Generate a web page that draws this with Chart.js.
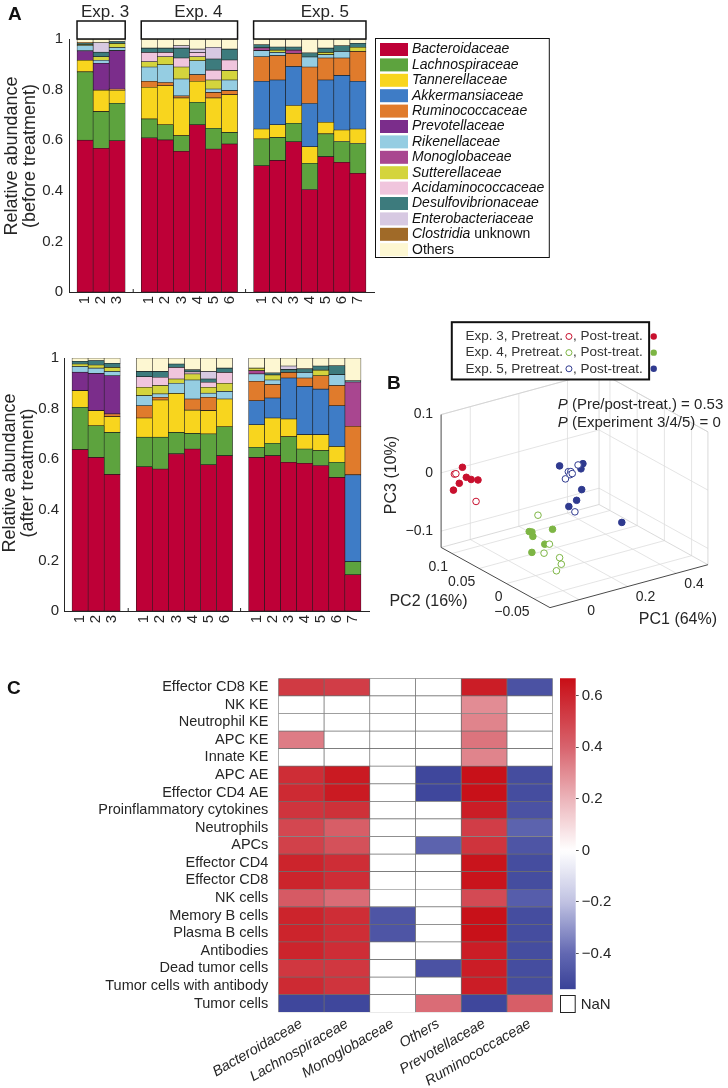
<!DOCTYPE html>
<html><head><meta charset="utf-8">
<script src="https://cdn.jsdelivr.net/npm/chart.js@4.4.1/dist/chart.umd.min.js"></script>
<style>
html,body{margin:0;padding:0;background:#fff;}
body{position:relative;width:728px;height:1088px;overflow:hidden;font-family:'Liberation Sans',Arial,Helvetica,sans-serif;}
canvas{position:absolute;}
.pl{position:absolute;font-weight:bold;font-size:19px;color:#111;line-height:1;}
</style></head><body>
<canvas id="aTop" width="560" height="318" style="left:0;top:0;width:560px;height:318px"></canvas>
<canvas id="aBot" width="376" height="320" style="left:0;top:320px;width:376px;height:320px"></canvas>
<canvas id="pca" width="358" height="345" style="left:370px;top:290px;width:358px;height:345px"></canvas>
<canvas id="heat" width="560" height="448" style="left:0;top:640px;width:560px;height:448px"></canvas>
<canvas id="cbar" width="173" height="448" style="left:555px;top:640px;width:173px;height:448px"></canvas>
<div class="pl" style="left:8px;top:4px">A</div>
<div class="pl" style="left:387px;top:373px">B</div>
<div class="pl" style="left:7px;top:678px">C</div>
<script>
// ================= DATA =================
// ---- Panel A: relative abundance ----
const families = ['Bacteroidaceae','Lachnospiraceae','Tannerellaceae','Akkermansiaceae','Ruminococcaceae','Prevotellaceae','Rikenellaceae','Monoglobaceae','Sutterellaceae','Acidaminococcaceae','Desulfovibrionaceae','Enterobacteriaceae','Clostridia unknown','Others'];
const familyColors = ['#BE0037','#5DA33E','#F8D51E','#3E7CC6','#E07B2C','#7B2D8B','#95CDE2','#A94690','#D4D43D','#F0C5DD','#3D7B7D','#D7C9E2','#A06A28','#FDF7D2'];
const groupNames = ['Exp. 3','Exp. 4','Exp. 5'];
const groupSizes = [3,6,7];
const sampleLabels = ['1','2','3','1','2','3','4','5','6','1','2','3','4','5','6','7'];

const preBacteroidaceae      = [0.600,0.568,0.598,0.609,0.601,0.556,0.661,0.565,0.585,0.499,0.520,0.594,0.405,0.535,0.513,0.469];
const preLachnospiraceae     = [0.270,0.145,0.148,0.075,0.060,0.062,0.089,0.082,0.046,0.106,0.091,0.073,0.104,0.090,0.082,0.118];
const preTannerellaceae      = [0.046,0.085,0.052,0.125,0.154,0.149,0.083,0.120,0.149,0.039,0.050,0.070,0.065,0.046,0.045,0.057];
const preAkkermansiaceae     = [0,0,0,0,0,0,0,0,0,0.189,0.177,0.154,0.171,0.167,0.216,0.189];
const preRuminococcaceae     = [0,0,0.004,0.024,0.013,0.008,0.026,0.022,0.016,0.097,0.096,0.052,0.144,0.087,0.069,0.118];
const prePrevotellaceae      = [0.037,0.106,0.152,0,0,0,0,0,0,0,0,0,0,0,0,0];
const preRikenellaceae       = [0.021,0.012,0.012,0.056,0.070,0.067,0.055,0.013,0.042,0.024,0.013,0,0.040,0.013,0.026,0];
const preMonoglobaceae       = [0,0,0,0,0,0,0,0,0,0.011,0,0.013,0,0,0,0];
const preSutterellaceae      = [0.004,0.014,0.016,0.021,0.032,0.047,0.016,0.036,0.037,0,0.009,0,0,0.009,0,0.016];
const preAcidaminococcaceae  = [0,0,0,0.037,0.017,0.036,0.017,0.039,0.042,0,0,0,0,0,0,0];
const preDesulfovibrionaceae = [0.006,0.018,0.008,0.017,0.017,0.039,0,0.044,0.043,0.012,0.012,0.012,0.016,0.017,0.022,0.016];
const preEnterobacteriaceae  = [0,0.037,0,0,0,0.009,0.013,0.046,0,0,0,0,0,0,0,0];
const preClostridia          = [0.003,0,0,0,0,0,0,0,0,0,0,0,0,0,0,0];
const preOthers              = [0.013,0.015,0.010,0.036,0.036,0.027,0.040,0.033,0.040,0.023,0.032,0.032,0.055,0.036,0.027,0.017];

const postBacteroidaceae      = [0.638,0.607,0.540,0.570,0.561,0.621,0.640,0.578,0.614,0.607,0.614,0.588,0.584,0.575,0.528,0.143];
const postLachnospiraceae     = [0.167,0.125,0.166,0.117,0.126,0.085,0.062,0.122,0.114,0.040,0.049,0.101,0.056,0.059,0.060,0.052];
const postTannerellaceae      = [0.066,0.060,0.062,0.076,0.147,0.154,0.092,0.092,0.110,0.089,0.100,0.070,0.057,0.063,0.062,0];
const postAkkermansiaceae     = [0,0,0,0,0,0,0,0,0,0.095,0.079,0.162,0.190,0.180,0.161,0.343];
const postRuminococcaceae     = [0,0,0.011,0.048,0.011,0,0.044,0.053,0,0.077,0.053,0.022,0.034,0.053,0.080,0.192];
const postPrevotellaceae      = [0.073,0.147,0.151,0,0,0,0,0,0,0,0,0,0,0,0,0];
const postRikenellaceae       = [0.022,0.021,0.017,0.040,0.013,0.040,0.075,0.016,0.030,0.029,0.018,0,0.022,0,0.043,0];
const postMonoglobaceae       = [0,0,0,0,0,0,0,0,0,0.013,0,0,0,0,0,0.175];
const postSutterellaceae      = [0.010,0.012,0.016,0.033,0.033,0.017,0.024,0.023,0.032,0.010,0.020,0,0,0.022,0,0];
const postAcidaminococcaceae  = [0,0,0,0.042,0.033,0.046,0.008,0.020,0.043,0,0,0,0,0,0,0];
const postDesulfovibrionaceae = [0.011,0.018,0.016,0.021,0.023,0.013,0.008,0.013,0.017,0,0.008,0.012,0.014,0.016,0.035,0.005];
const postEnterobacteriaceae  = [0,0,0,0,0,0,0,0.030,0,0,0,0.013,0,0,0,0];
const postClostridia          = [0,0,0,0,0,0,0,0,0,0,0,0,0,0,0,0];
const postOthers              = [0.013,0.010,0.021,0.053,0.053,0.024,0.047,0.053,0.040,0.040,0.059,0.032,0.043,0.032,0.031,0.090];

const preRows = [preBacteroidaceae,preLachnospiraceae,preTannerellaceae,preAkkermansiaceae,preRuminococcaceae,prePrevotellaceae,preRikenellaceae,preMonoglobaceae,preSutterellaceae,preAcidaminococcaceae,preDesulfovibrionaceae,preEnterobacteriaceae,preClostridia,preOthers];
const postRows = [postBacteroidaceae,postLachnospiraceae,postTannerellaceae,postAkkermansiaceae,postRuminococcaceae,postPrevotellaceae,postRikenellaceae,postMonoglobaceae,postSutterellaceae,postAcidaminococcaceae,postDesulfovibrionaceae,postEnterobacteriaceae,postClostridia,postOthers];

// ---- Panel B: PCA (PC1, PC2, PC3) ----
const pcaGroups = ['Exp. 3','Exp. 4','Exp. 5'];
const pcaColors = ['#C8102E','#7DB544','#2F3A8F'];
const exp3Pre  = [[-0.110,0.10,0.007],[-0.104,0.10,0.007],[-0.021,0.10,-0.050]];
const exp3Post = [[-0.077,0.10,0.015],[-0.061,0.10,-0.004],[-0.041,0.10,-0.010],[-0.013,0.10,-0.014],[-0.090,0.10,-0.011],[-0.114,0.10,-0.020]];
const exp4Pre  = [[-0.035,-0.02,-0.010],[0.012,-0.02,-0.065],[-0.010,-0.02,-0.078],[0.054,-0.02,-0.093],[0.061,-0.02,-0.105],[0.041,-0.02,-0.114]];
const exp4Post = [[-0.071,-0.02,-0.034],[-0.060,-0.02,-0.036],[-0.056,-0.02,-0.044],[0.025,-0.02,-0.041],[-0.007,-0.02,-0.063],[-0.060,-0.02,-0.071]];
const exp5Pre  = [[0.242,0.03,0.019],[0.202,0.03,0.012],[0.212,0.03,0.011],[0.209,0.03,0.006],[0.190,0.03,0.001],[0.229,0.03,-0.060],[0.218,0.03,0.007]];
const exp5Post = [[0.166,0.03,0.026],[0.262,0.03,0.019],[0.254,0.03,0.011],[0.257,0.03,-0.025],[0.236,0.03,-0.041],[0.204,0.03,-0.048],[0.422,0.03,-0.100]];
const pc1Ticks = [0,0.2,0.4];
const pc2Ticks = [-0.05,0,0.05,0.1];
const pc3Ticks = [-0.1,0,0.1];
const pc1Lim = [-0.12,0.53], pc2Lim = [-0.08,0.12], pc3Lim = [-0.128,0.1];
const pcaAxisTitles = ['PC1 (64%)','PC2 (16%)','PC3 (10%)'];
const pTests = ['(Pre/post-treat.) = 0.53','(Experiment 3/4/5) = 0'];

// ---- Panel C: correlation heat map ----
const immuneRows = ['Effector CD8 KE','NK KE','Neutrophil KE','APC KE','Innate KE','APC AE','Effector CD4 AE','Proinflammatory cytokines','Neutrophils','APCs','Effector CD4','Effector CD8','NK cells','Memory B cells','Plasma B cells','Antibodies','Dead tumor cells','Tumor cells with antibody','Tumor cells'];
const taxaCols = ['Bacteroidaceae','Lachnospiraceae','Monoglobaceae','Others','Prevotellaceae','Ruminococcaceae'];
const corrBacteroidaceae  = [0.53,null,null,0.34,null,0.57,0.58,0.55,0.49,0.51,0.60,0.60,0.43,0.60,0.60,0.60,0.54,0.58,-0.52];
const corrLachnospiraceae = [0.52,null,null,null,null,0.63,0.63,0.56,0.42,0.46,0.57,0.57,0.38,0.57,0.57,0.57,0.54,0.55,-0.52];
const corrMonoglobaceae   = [null,null,null,null,null,null,null,null,null,null,null,null,null,-0.47,-0.47,null,null,null,null];
const corrOthers          = [null,null,null,null,null,-0.52,-0.52,null,null,-0.42,null,null,null,null,null,null,-0.48,null,0.38];
const corrPrevotellaceae  = [0.62,0.30,0.32,0.36,0.32,0.66,0.66,0.62,0.52,0.55,0.65,0.65,0.48,0.66,0.66,0.62,0.62,0.62,-0.52];
const corrRuminococcaceae = [-0.48,null,null,null,null,-0.50,-0.50,-0.48,-0.42,-0.47,-0.50,-0.50,-0.44,-0.50,-0.50,-0.50,-0.50,-0.50,0.42];
const colorbarTicks = [-0.4,-0.2,0,0.2,0.4,0.6];
const colorbarLimits = [-0.539,0.668];

// ================= STYLE / HELPERS =================
const FONT = "'Liberation Sans', Arial, Helvetica, sans-serif";
const INK = '#262626';
Chart.defaults.font.family = FONT;
Chart.defaults.color = INK;
Chart.defaults.animation = false;
Chart.defaults.plugins.legend.display = false;
Chart.defaults.plugins.tooltip.enabled = false;

const fmt = v => Math.abs(v) < 1e-9 ? '0' : (v < 0 ? '\u2212' : '') + String(+Math.abs(v).toFixed(3));

const barPositions = [];
(function(){ let p = 1; groupSizes.forEach(n => { for (let i = 0; i < n; i++) barPositions.push(p++); p++; }); })();

// ================= PANEL A =================
function drawLegendLabel(ctx, label, x, y) {
  ctx.textAlign = 'left'; ctx.textBaseline = 'middle'; ctx.fillStyle = '#111';
  if (label === 'Others') { ctx.font = `14px ${FONT}`; ctx.fillText(label, x, y); return x + ctx.measureText(label).width; }
  const sp = label.indexOf(' ');
  if (sp > 0) {
    const a = label.slice(0, sp), b = label.slice(sp);
    ctx.font = `italic 14px ${FONT}`; ctx.fillText(a, x, y); const w = ctx.measureText(a).width;
    ctx.font = `14px ${FONT}`; ctx.fillText(b, x + w, y); return x + w + ctx.measureText(b).width;
  }
  ctx.font = `italic 14px ${FONT}`; ctx.fillText(label, x, y); return x + ctx.measureText(label).width;
}

function makeAbundance(id, rows, o) {
  const datasets = families.map((f, i) => ({
    label: f,
    data: rows[i].map((v, j) => ({ x: barPositions[j], y: v > 0 ? v : null })),
    backgroundColor: familyColors[i],
    borderColor: '#1b1b1b', borderWidth: 0.6, borderSkipped: false,
    barPercentage: 1, categoryPercentage: 1, stack: 'all'
  }));
  const deco = {
    id: 'deco' + id,
    beforeDatasetsDraw(chart) {
      // small inward tick marks on the x axis
      const ctx = chart.ctx, a = chart.chartArea, xs = chart.scales.x;
      ctx.save(); ctx.strokeStyle = INK; ctx.lineWidth = 1;
      for (let v = 1; v < 19; v++) { const x = xs.getPixelForValue(v); ctx.beginPath(); ctx.moveTo(x, a.bottom); ctx.lineTo(x, a.bottom - 3); ctx.stroke(); }
      ctx.restore();
    },
    afterDraw(chart) {
      const ctx = chart.ctx, a = chart.chartArea, xs = chart.scales.x;
      ctx.save();
      ctx.fillStyle = INK; ctx.font = `18px ${FONT}`; ctx.textAlign = 'center'; ctx.textBaseline = 'middle';
      o.title.forEach((t, i) => { ctx.save(); ctx.translate(o.titleX[i], o.titleY); ctx.rotate(-Math.PI / 2); ctx.fillText(t, 0, 0); ctx.restore(); });
      if (o.headers) {
        let k = 0;
        groupNames.forEach((g, gi) => {
          const first = barPositions[k], last = barPositions[k + groupSizes[gi] - 1]; k += groupSizes[gi];
          const l = xs.getPixelForValue(first - 0.5), r = xs.getPixelForValue(last + 0.5);
          ctx.fillStyle = '#fff'; ctx.fillRect(l, a.top - 18, r - l, 18);
          ctx.strokeStyle = '#111'; ctx.lineWidth = 1.5; ctx.strokeRect(l, a.top - 18, r - l, 18);
          ctx.fillStyle = INK; ctx.font = `17px ${FONT}`; ctx.textAlign = 'center';
          ctx.fillText(g, (l + r) / 2 + o.headerShift[gi], a.top - 27);
        });
      }
      if (o.legend) {
        const lx = 375.5, ly = 38.5, rowH = 15.4;
        let maxR = 0;
        chart.data.datasets.forEach((d) => { ctx.save(); ctx.globalAlpha = 0; maxR = Math.max(maxR, drawLegendLabel(ctx, d.label, 412, 0)); ctx.restore(); });
        const lw = maxR + 5 - lx, lh = 219;
        ctx.fillStyle = '#fff'; ctx.fillRect(lx, ly, lw, lh);
        ctx.strokeStyle = '#111'; ctx.lineWidth = 1; ctx.strokeRect(lx, ly, lw, lh);
        chart.data.datasets.forEach((d, i) => {
          const cy = 49.5 + i * rowH;
          ctx.fillStyle = d.backgroundColor; ctx.fillRect(380, cy - 6.5, 28, 13);
          drawLegendLabel(ctx, d.label, 412, cy);
        });
      }
      ctx.restore();
    }
  };
  return new Chart(document.getElementById(id), {
    type: 'bar',
    data: { datasets },
    options: {
      responsive: false, animation: false,
      layout: { padding: { left: 0, top: o.T, right: o.W - o.R, bottom: 0 } },
      scales: {
        x: {
          type: 'linear', min: 0, max: 19, stacked: true, offset: false,
          grid: { display: false, drawTicks: false, offset: false },
          border: { display: true, color: INK, width: 1 },
          afterBuildTicks: s => { s.ticks = barPositions.map(v => ({ value: v })); },
          ticks: { autoSkip: false, minRotation: 90, maxRotation: 90, padding: 4, font: { size: 15 },
                   callback: v => sampleLabels[barPositions.indexOf(v)] },
          afterFit: s => { s.height = o.H - o.B; }
        },
        y: {
          min: 0, max: 1, stacked: true,
          grid: { display: false, drawTicks: false },
          border: { display: true, color: INK, width: 1 },
          ticks: { stepSize: 0.2, padding: o.tickPad, font: { size: 15 }, callback: v => fmt(v) },
          afterFit: s => { s.width = o.L; }
        }
      }
    },
    plugins: [deco]
  });
}

makeAbundance('aTop', preRows, { L: 69, T: 39, R: 374, B: 292, W: 560, H: 318, tickPad: 6,
  title: ['Relative abundance', '(before treatment)'], titleX: [12, 30], titleY: 156,
  headers: true, headerShift: [4, 9, 15], legend: true });
makeAbundance('aBot', postRows, { L: 64, T: 38, R: 369, B: 291, W: 376, H: 320, tickPad: 5,
  title: ['Relative abundance', '(after treatment)'], titleX: [10, 28], titleY: 153,
  headers: false, legend: false });

// ================= PANEL B =================
const view = { o: [535.2, 502.2], e1: [250, -68], e2: [-560, -310], e3: [0, -600] };
function proj(p) {
  return [view.o[0] + view.e1[0] * p[0] + view.e2[0] * p[1] + view.e3[0] * p[2],
          view.o[1] + view.e1[1] * p[0] + view.e2[1] * p[1] + view.e3[1] * p[2]];
}
const pcaSets = [[exp3Pre, exp3Post], [exp4Pre, exp4Post], [exp5Pre, exp5Post]];
const pcaDatasets = [];
pcaSets.forEach(([pre, post], g) => {
  pcaDatasets.push({ label: pcaGroups[g] + ', Pretreat.', data: pre.map(p => { const s = proj(p); return { x: s[0], y: s[1] }; }),
    pointRadius: 3.3, pointBackgroundColor: '#fff', pointBorderColor: pcaColors[g], pointBorderWidth: 1 });
  pcaDatasets.push({ label: pcaGroups[g] + ', Post-treat.', data: post.map(p => { const s = proj(p); return { x: s[0], y: s[1] }; }),
    pointRadius: 3.3, pointBackgroundColor: pcaColors[g], pointBorderColor: pcaColors[g], pointBorderWidth: 1 });
});

const box3d = {
  id: 'box3d',
  beforeDatasetsDraw(chart) {
    const ctx = chart.ctx, xs = chart.scales.x, ys = chart.scales.y;
    const P = (a, b, c) => { const s = proj([a, b, c]); return [xs.getPixelForValue(s[0]), ys.getPixelForValue(s[1])]; };
    const line = (p, q, col, w) => { ctx.strokeStyle = col; ctx.lineWidth = w; ctx.beginPath(); ctx.moveTo(p[0], p[1]); ctx.lineTo(q[0], q[1]); ctx.stroke(); };
    const [x0, x1] = pc1Lim, [y0, y1] = pc2Lim, [z0, z1] = pc3Lim;
    const G = '#dddddd';
    ctx.save();
    pc1Ticks.forEach(t => line(P(t, y0, z0), P(t, y1, z0), G, 0.8));
    pc2Ticks.forEach(t => line(P(x0, t, z0), P(x1, t, z0), G, 0.8));
    pc1Ticks.forEach(t => line(P(t, y1, z0), P(t, y1, z1), G, 0.8));
    pc3Ticks.forEach(t => line(P(x0, y1, t), P(x1, y1, t), G, 0.8));
    pc2Ticks.forEach(t => line(P(x1, t, z0), P(x1, t, z1), G, 0.8));
    pc3Ticks.forEach(t => line(P(x1, y0, t), P(x1, y1, t), G, 0.8));
    const E = '#d0d0d0';
    line(P(x0, y1, z1), P(x1, y1, z1), E, 0.8); line(P(x1, y1, z1), P(x1, y0, z1), E, 0.8);
    line(P(x1, y1, z0), P(x1, y1, z1), E, 0.8); line(P(x1, y0, z0), P(x1, y0, z1), E, 0.8);
    line(P(x0, y1, z0), P(x1, y1, z0), E, 0.8); line(P(x1, y1, z0), P(x1, y0, z0), E, 0.8);
    const A = '#4a4a4a';
    line(P(x0, y1, z0), P(x0, y1, z1), A, 1);
    line(P(x0, y0, z0), P(x0, y1, z0), A, 1);
    line(P(x0, y0, z0), P(x1, y0, z0), A, 1);
    ctx.fillStyle = INK; ctx.font = `14px ${FONT}`; ctx.textBaseline = 'middle';
    ctx.textAlign = 'right';
    pc3Ticks.forEach(t => { const p = P(x0, y1, t); ctx.fillText(fmt(t), p[0] - 8, p[1]); });
    pc2Ticks.forEach(t => { const p = P(x0, t, z0); ctx.fillText(fmt(t), p[0] - 4, p[1] + 14); });
    ctx.textAlign = 'left';
    pc1Ticks.forEach(t => { const p = P(t, y0, z0); ctx.fillText(fmt(t), p[0] + 8, p[1] + 11); });
    ctx.font = `16px ${FONT}`; ctx.textAlign = 'center';
    let p = P((x0 + x1) / 2, y0, z0); ctx.fillText(pcaAxisTitles[0], p[0] + 49, p[1] + 33);
    p = P(x0, (y0 + y1) / 2, z0); ctx.fillText(pcaAxisTitles[1], p[0] - 67, p[1] + 24);
    p = P(x0, y1, (z0 + z1) / 2); ctx.save(); ctx.translate(p[0] - 50, p[1] - 6); ctx.rotate(-Math.PI / 2); ctx.fillText(pcaAxisTitles[2], 0, 0); ctx.restore();
    ctx.restore();
  },
  afterDraw(chart) {
    const ctx = chart.ctx, xs = chart.scales.x, ys = chart.scales.y;
    const X = v => xs.getPixelForValue(v), Y = v => ys.getPixelForValue(v);
    ctx.save();
    ctx.fillStyle = INK; ctx.textBaseline = 'middle'; ctx.textAlign = 'left';
    pTests.forEach((t, i) => {
      const yy = Y(403 + i * 18.7);
      ctx.font = `italic 15px ${FONT}`; ctx.fillText('P', X(558), yy);
      const w = ctx.measureText('P ').width;
      ctx.font = `15px ${FONT}`; ctx.fillText(t, X(558) + w, yy);
    });
    ctx.strokeStyle = '#111'; ctx.lineWidth = 2; ctx.fillStyle = '#fff';
    ctx.fillRect(X(449), Y(318), X(652) - X(449), Y(377) - Y(318));
    ctx.strokeRect(X(449), Y(318), X(652) - X(449), Y(377) - Y(318));
    ctx.font = `13.5px ${FONT}`;
    const ds = chart.data.datasets;
    for (let g = 0; g < 3; g++) {
      const pre = ds[2 * g], post = ds[2 * g + 1];
      const yy = Y(332.7 + g * 16.65);
      let xx = X(463);
      ctx.fillStyle = '#333'; ctx.fillText(pre.label, xx, yy);
      xx += ctx.measureText(pre.label).width + 6;
      ctx.beginPath(); ctx.arc(xx, yy, 3, 0, Math.PI * 2);
      ctx.fillStyle = pre.pointBackgroundColor; ctx.fill(); ctx.strokeStyle = pre.pointBorderColor; ctx.lineWidth = 1; ctx.stroke();
      xx += 4;
      const t2 = post.label.replace(pcaGroups[g], '');
      ctx.fillStyle = '#333'; ctx.fillText(t2, xx, yy);
      xx += ctx.measureText(t2).width + 11;
      ctx.beginPath(); ctx.arc(xx, yy, 3.2, 0, Math.PI * 2); ctx.fillStyle = post.pointBackgroundColor; ctx.fill();
    }
    ctx.restore();
  }
};

new Chart(document.getElementById('pca'), {
  type: 'scatter',
  data: { datasets: pcaDatasets },
  options: {
    responsive: false, animation: false,
    layout: { padding: 0 },
    clip: false,
    scales: {
      x: { type: 'linear', min: 370, max: 728, display: false },
      y: { type: 'linear', min: 290, max: 635, reverse: true, display: false }
    }
  },
  plugins: [box3d]
});

// ================= PANEL C =================
const cmapStops = [[-0.539,[58,66,152]],[-0.4,[98,104,178]],[-0.2,[192,194,226]],[0,[255,255,255]],[0.2,[236,180,186]],[0.4,[216,100,110]],[0.668,[200,14,22]]];
function colormap(v) {
  v = Math.max(cmapStops[0][0], Math.min(cmapStops[cmapStops.length - 1][0], v));
  for (let i = 1; i < cmapStops.length; i++) {
    if (v <= cmapStops[i][0]) {
      const [v0, c0] = cmapStops[i - 1], [v1, c1] = cmapStops[i];
      const t = (v - v0) / (v1 - v0);
      return 'rgb(' + c0.map((c, k) => Math.round(c + (c1[k] - c) * t)).join(',') + ')';
    }
  }
  return 'rgb(200,14,22)';
}
const corrCols = [corrBacteroidaceae, corrLachnospiraceae, corrMonoglobaceae, corrOthers, corrPrevotellaceae, corrRuminococcaceae];

new Chart(document.getElementById('heat'), {
  type: 'bar',
  data: {
    labels: immuneRows,
    datasets: taxaCols.map((t, c) => ({
      label: t,
      data: immuneRows.map(() => [c, c + 1]),
      backgroundColor: corrCols[c].map(v => v == null ? '#ffffff' : colormap(v)),
      borderColor: '#6e6e6e', borderWidth: 0.7, borderSkipped: false,
      grouped: false, barPercentage: 1, categoryPercentage: 1
    }))
  },
  options: {
    indexAxis: 'y', responsive: false, animation: false,
    layout: { padding: { left: 0, top: 38.3, right: 7.3, bottom: 0 } },
    scales: {
      x: {
        type: 'linear', min: 0, max: 6,
        grid: { display: false, drawTicks: false }, border: { display: false },
        afterBuildTicks: s => { s.ticks = taxaCols.map((t, i) => ({ value: i + 0.5 })); },
        ticks: { autoSkip: false, minRotation: 30, maxRotation: 30, padding: 3, font: { size: 14.5, style: 'italic' },
                 callback: (v, i) => taxaCols[i] },
        afterFit: s => { s.height = 448 - 372.3; }
      },
      y: {
        grid: { display: false, drawTicks: false }, border: { display: false },
        ticks: { autoSkip: false, padding: 10, font: { size: 14.5 } },
        afterFit: s => { s.width = 278.3; }
      }
    }
  }
});

const nanBox = {
  id: 'nanBox',
  afterDraw(chart) {
    const ctx = chart.ctx, a = chart.chartArea;
    ctx.save();
    ctx.strokeStyle = '#222'; ctx.lineWidth = 1;
    ctx.strokeRect(a.left + 0.5, 355.5, a.right - a.left - 1, 17);
    ctx.fillStyle = INK; ctx.font = `15px ${FONT}`; ctx.textAlign = 'left'; ctx.textBaseline = 'middle';
    ctx.fillText('NaN', a.right + 5, 364.5);
    ctx.restore();
  }
};

new Chart(document.getElementById('cbar'), {
  type: 'bar',
  data: {
    labels: [''],
    datasets: [{
      data: [colorbarLimits],
      barPercentage: 1, categoryPercentage: 1, borderWidth: 0,
      backgroundColor: (c) => {
        const ch = c.chart; if (!ch.chartArea) return '#fff';
        const ys = ch.scales.y;
        const g = ch.ctx.createLinearGradient(0, ys.getPixelForValue(colorbarLimits[0]), 0, ys.getPixelForValue(colorbarLimits[1]));
        const n = 80;
        for (let k = 0; k <= n; k++) {
          const v = colorbarLimits[0] + (colorbarLimits[1] - colorbarLimits[0]) * k / n;
          g.addColorStop(k / n, colormap(v));
        }
        return g;
      }
    }]
  },
  options: {
    responsive: false, animation: false,
    layout: { padding: { left: 5, top: 38.3, right: 0, bottom: 448 - 349.3 } },
    scales: {
      x: { display: false },
      y: {
        position: 'right', min: colorbarLimits[0], max: colorbarLimits[1],
        grid: { display: true, drawOnChartArea: false, drawTicks: true, tickLength: 3, color: '#555' },
        border: { display: false },
        afterBuildTicks: s => { s.ticks = colorbarTicks.map(v => ({ value: v })); },
        ticks: { padding: 3, font: { size: 15 }, callback: v => fmt(v) },
        afterFit: s => { s.width = 173 - 20.7; }
      }
    }
  },
  plugins: [nanBox]
});
</script>
</body></html>
